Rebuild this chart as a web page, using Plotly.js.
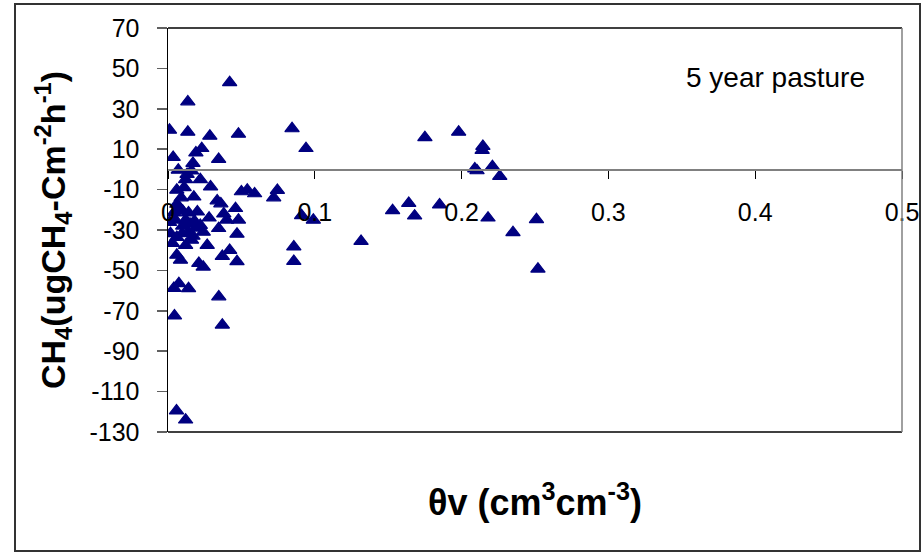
<!DOCTYPE html>
<html>
<head>
<meta charset="utf-8">
<script src="https://cdn.plot.ly/plotly-3.0.1.min.js"></script>
<style>
  html, body { margin: 0; padding: 0; background: #ffffff; }
  #chart { width: 923px; height: 553px; }
</style>
</head>
<body>
<div id="chart"></div>
<script>
// Volumetric water content (cm3 cm-3)
const moisture = [
  0.001, 0.0135, 0.042, 0.0135, 0.0285, 0.048, 0.0845, 0.094, 0.0035, 0.019,
  0.023, 0.0345, 0.007, 0.017, 0.016, 0.013, 0.012, 0.022, 0.006, 0.029,
  0.0176, 0.050, 0.054, 0.059, 0.072, 0.0745, 0.0335, 0.036, 0.046, 0.038,
  0.040, 0.048, 0.028, 0.0345, 0.047, 0.0267, 0.042, 0.037, 0.047, 0.021,
  0.024, 0.006, 0.0085, 0.003, 0.0017, 0.0097, 0.001, 0.004, 0.006, 0.010,
  0.012, 0.014, 0.018, 0.022, 0.024, 0.012, 0.006, 0.016, 0.004, 0.0074,
  0.014, 0.0044, 0.0346, 0.037, 0.0058, 0.012, 0.0857, 0.0857, 0.091, 0.099,
  0.1315, 0.153, 0.164, 0.168, 0.185, 0.175, 0.198, 0.2145, 0.214, 0.209,
  0.2105, 0.221, 0.226, 0.218, 0.235, 0.251, 0.252,
  0.008, 0.010, 0.015, 0.019, 0.005, 0.009, 0.020, 0.014, 0.017, 0.011
];
// CH4 flux (ug CH4-C m-2 h-1)
const ch4Flux = [
  19.5, 33.5, 43, 18.5, 16.5, 17.5, 20.2, 10.4, 6, 8.2,
  10.4, 5, -0.3, 3, -0.7, -2.4, -5, -5, -10.2, -8.6,
  -13.6, -11, -10.2, -12, -14, -10.3, -15.5, -17, -19.3, -22,
  -25, -25, -24, -29.2, -32, -37.5, -40, -43, -45.6, -46.5,
  -48.3, -42.4, -44.9, -36.6, -31.7, -31.7, -26.2, -21.5, -17.2, -20.6,
  -25, -21.5, -25.5, -27.6, -31, -37.5, -33.6, -35, -58.8, -56.5,
  -59, -72.5, -63, -77, -119.5, -124, -38.3, -45.5, -22.8, -25.1,
  -35.6, -20.3, -16.8, -23, -17.5, 15.8, 18.5, 11.5, 9.5, 0.3,
  -0.6, 1.5, -3.4, -24, -31.2, -24.8, -49.3,
  -19, -28, -27, -29, -25, -14, -21, -31, -33, -9
];

const xRange = [0, 0.5];
const yRange = [-130, 70];
const xTickVals = [0, 0.1, 0.2, 0.3, 0.4, 0.5];
const xTickText = ['0', '0.1', '0.2', '0.3', '0.4', '0.5'];
const yTickVals = [70, 50, 30, 10, -10, -30, -50, -70, -90, -110, -130];
const yTickText = ['70', '50', '30', '10', '-10', '-30', '-50', '-70', '-90', '-110', '-130'];

const FONT = 'Liberation Sans, Arial, sans-serif';
const zeroPos = (0 - yRange[0]) / (yRange[1] - yRange[0]);

const trace = {
  type: 'scatter',
  mode: 'markers',
  x: moisture,
  y: ch4Flux,
  marker: { symbol: 'triangle-up', size: 12.5, color: '#000080', line: { color: '#000080', width: 1.2 } },
  hoverinfo: 'x+y'
};

const layout = {
  width: 923,
  height: 553,
  margin: { l: 168, r: 21, t: 28, b: 121, pad: 0 },
  paper_bgcolor: '#ffffff',
  plot_bgcolor: '#ffffff',
  showlegend: false,
  font: { family: FONT, color: '#000000' },
  xaxis: {
    range: xRange,
    anchor: 'free',
    position: zeroPos,
    showgrid: false,
    zeroline: false,
    showline: true,
    linecolor: '#808080',
    linewidth: 1.5,
    ticks: 'outside',
    ticklen: 8,
    tickwidth: 1,
    tickcolor: '#000000',
    tickmode: 'array',
    tickvals: xTickVals,
    ticktext: xTickText,
    tickfont: { family: FONT, size: 25, color: '#000000' },
    ticklabelstandoff: 12,
    fixedrange: true
  },
  yaxis: {
    range: yRange,
    showgrid: false,
    zeroline: false,
    showline: true,
    linecolor: '#000000',
    linewidth: 1.5,
    ticks: 'outside',
    ticklen: 10,
    tickwidth: 1.5,
    tickcolor: '#606060',
    tickmode: 'array',
    tickvals: yTickVals,
    ticktext: yTickText,
    tickfont: { family: FONT, size: 25, color: '#000000' },
    ticklabelstandoff: 12,
    fixedrange: true
  },
  shapes: [
    { type: 'line', xref: 'paper', yref: 'paper', x0: 0, x1: 1, y0: 1, y1: 1, line: { color: '#000000', width: 1.5 } },
    { type: 'line', xref: 'paper', yref: 'paper', x0: 0, x1: 1, y0: 0, y1: 0, line: { color: '#000000', width: 1.5 } },
    { type: 'line', xref: 'paper', yref: 'paper', x0: 1, x1: 1, y0: 0, y1: 1, line: { color: '#808080', width: 1.5 } },
    { type: 'rect', xref: 'paper', yref: 'paper',
      x0: (15 - 168) / 734, x1: (920 - 168) / 734, y0: (432 - 551) / 404, y1: (432 - 4) / 404,
      line: { color: '#333333', width: 2 }, fillcolor: 'rgba(0,0,0,0)' }
  ],
  annotations: [
    { text: '5 year pasture', xref: 'paper', yref: 'paper', x: (775 - 168) / 734, y: (432 - 77) / 404,
      xanchor: 'center', yanchor: 'middle', showarrow: false,
      font: { family: FONT, size: 28, color: '#000000' } },
    { text: '<b>θv (cm<sup>3</sup>cm<sup>-3</sup>)</b>', xref: 'paper', yref: 'paper', x: 0.5, y: (432 - 500) / 404,
      xanchor: 'center', yanchor: 'middle', showarrow: false,
      font: { family: FONT, size: 36, color: '#000000' } },
    { text: '<b>CH<sub>4</sub>(ugCH<sub>4</sub>-Cm<sup>-2</sup>h<sup>-1</sup>)</b>', xref: 'paper', yref: 'paper',
      x: (53 - 168) / 734, y: 0.5, textangle: -90,
      xanchor: 'center', yanchor: 'middle', showarrow: false,
      font: { family: FONT, size: 34, color: '#000000' } }
  ]
};

Plotly.newPlot('chart', [trace], layout, { displayModeBar: false, staticPlot: true });
</script>
</body>
</html>
